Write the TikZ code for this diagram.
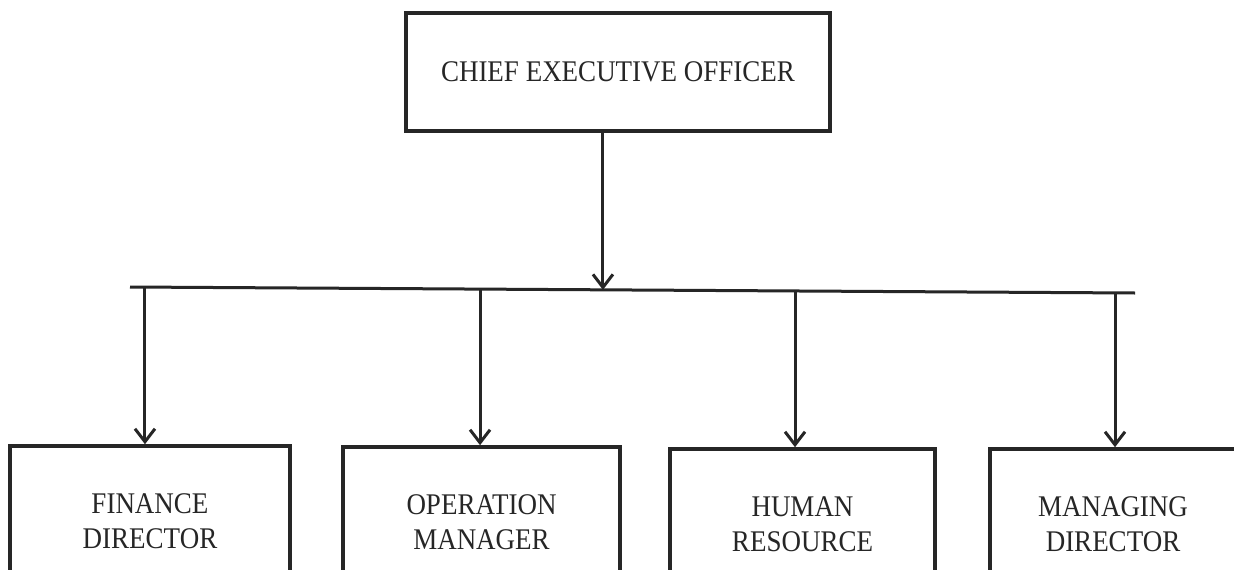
\documentclass[tikz,border=0pt]{standalone}
\usepackage{fontspec}
\setmainfont{Liberation Serif}
\usetikzlibrary{arrows.meta,calc}
\definecolor{ink}{RGB}{38,38,38}
\newcommand{\lbl}[1]{\scalebox{0.9}[1]{#1}}
\begin{document}
\begin{tikzpicture}[x=1pt,y=-1pt,
  box/.style={draw=ink,line width=3.6pt,fill=white,text=ink,align=center,
    font=\fontsize{30}{35}\selectfont,inner sep=0pt},
  link/.style={draw=ink,line width=3pt,-{Straight Barb[length=13pt,width=20pt,line width=3pt]}},
  bus/.style={draw=ink,line width=3pt}]
\useasboundingbox (0,0) rectangle (1234,570);
\clip (0,0) rectangle (1234,570);
\fill[white] (0,0) rectangle (1234,570);

% top box
\node[box,minimum width=424pt,minimum height=118pt] (ceo) at (618,72) {\lbl{CHIEF EXECUTIVE OFFICER}};

% horizontal distribution line
\coordinate (busL) at (130,287);
\coordinate (busR) at (1135,293);
\draw[bus] (busL) -- (busR);
\coordinate (tceo) at ($(busL)!0.4706!(busR)$);
\coordinate (tfin) at ($(busL)!0.0149!(busR)$);
\coordinate (top)  at ($(busL)!0.3483!(busR)$);
\coordinate (thr)  at ($(busL)!0.6617!(busR)$);
\coordinate (tman) at ($(busL)!0.9801!(busR)$);

% lower boxes
\node[box,minimum width=280pt,minimum height=150pt] (fin) at (150,521) {\lbl{FINANCE}\\\lbl{DIRECTOR}};
\node[box,minimum width=277pt,minimum height=150pt] (ops) at (481.5,522) {\lbl{OPERATION}\\\lbl{MANAGER}};
\node[box,minimum width=265pt,minimum height=150pt] (hr)  at (802.5,524) {\lbl{HUMAN}\\\lbl{RESOURCE}};
\node[box,minimum width=246pt,minimum height=150pt] (md)  at (1113,524) {\lbl{MANAGING}\\\lbl{DIRECTOR}};

% connectors
\draw[link] (ceo.south -| tceo) -- (tceo);
\draw[link] (tfin) -- (tfin |- fin.north);
\draw[link] (top)  -- (top |- ops.north);
\draw[link] (thr)  -- (thr |- hr.north);
\draw[link] (tman) -- (tman |- md.north);
\end{tikzpicture}
\end{document}
